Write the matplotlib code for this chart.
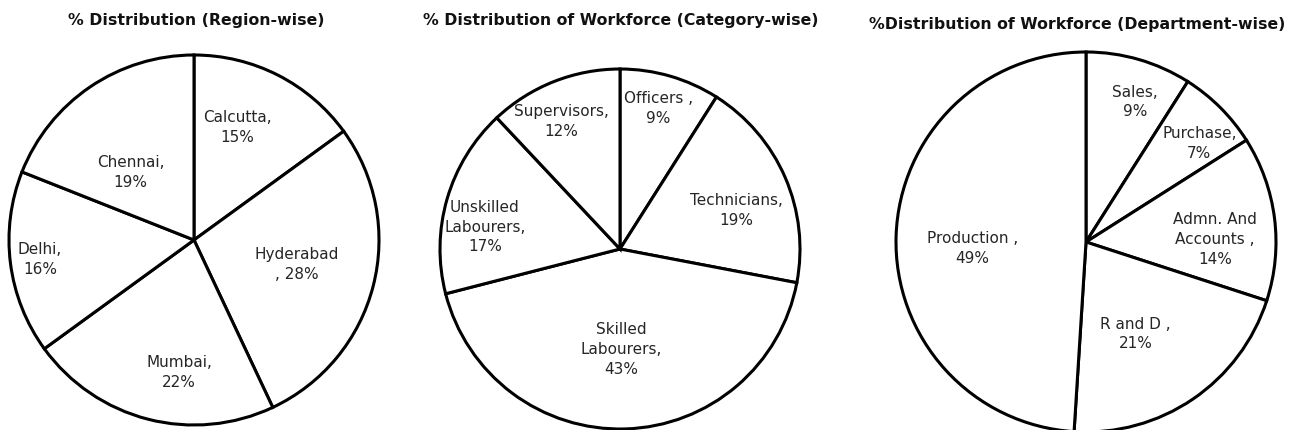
import numpy as np
import matplotlib
matplotlib.use("Agg")
import matplotlib.pyplot as plt

# data
region_labels = ["Calcutta,\n15%", "Hyderabad\n, 28%", "Mumbai,\n22%", "Delhi,\n16%", "Chennai,\n19%"]
region_pct = [15, 28, 22, 16, 19]

category_labels = ["Officers ,\n9%", "Technicians,\n19%", "Skilled\nLabourers,\n43%",
                   "Unskilled\nLabourers,\n17%", "Supervisors,\n12%"]
category_pct = [9, 19, 43, 17, 12]

dept_labels = ["Sales,\n9%", "Purchase,\n7%", "Admn. And\nAccounts ,\n14%", "R and D ,\n21%",
               "Production ,\n49%"]
dept_pct = [9, 7, 14, 21, 49]

titles = ["% Distribution (Region-wise)",
          "% Distribution of Workforce (Category-wise)",
          "%Distribution of Workforce (Department-wise)"]

W, H = 1289, 430

# pie centre / radius in pixels, label radius factors and angle nudges (style only)
pies = [
    dict(cx=194, cy=240, r=185, vals=region_pct, labels=region_labels,
         lr=[0.65, 0.57, 0.72, 0.84, 0.50], da=[6, 1, 8, 0, 9],
         title=titles[0], tx=196, ty=20),
    dict(cx=620, cy=249, r=180, vals=category_pct, labels=category_labels,
         lr=[0.81, 0.68, 0.56, 0.76, 0.78], da=[1, -5, -1, 7, 3],
         title=titles[1], tx=621, ty=20),
    dict(cx=1086, cy=242, r=190, vals=dept_pct, labels=dept_labels,
         lr=[0.78, 0.79, 0.68, 0.55, 0.60], da=[-3, -4, -6, -6, 5],
         title=titles[2], tx=1077, ty=25),
]

fig = plt.figure(figsize=(W / 100, H / 100), dpi=100)
fig.patch.set_facecolor("white")

for p in pies:
    ax = fig.add_axes([(p["cx"] - p["r"]) / W, (H - p["cy"] - p["r"]) / H,
                       2 * p["r"] / W, 2 * p["r"] / H])
    wedges, _ = ax.pie(p["vals"], startangle=90, counterclock=False, radius=1,
                       colors=["white"] * len(p["vals"]),
                       wedgeprops=dict(edgecolor="black", linewidth=2.2))
    for w in wedges:
        w.set_clip_on(False)
    for w, lab, lr, da in zip(wedges, p["labels"], p["lr"], p["da"]):
        ang = np.deg2rad((w.theta1 + w.theta2) / 2 + da)
        ax.text(lr * np.cos(ang), lr * np.sin(ang), lab, ha="center", va="center",
                fontsize=11, color="#262626", linespacing=1.4, family="DejaVu Sans")
    ax.set_xlim(-1, 1)
    ax.set_ylim(-1, 1)
    ax.set_aspect("equal")
    ax.axis("off")
    fig.text(p["tx"] / W, 1 - p["ty"] / H, p["title"], ha="center", va="center",
             fontsize=11.3, fontweight="bold", color="#111111")

fig.savefig("out.png", dpi=100, facecolor="white")
